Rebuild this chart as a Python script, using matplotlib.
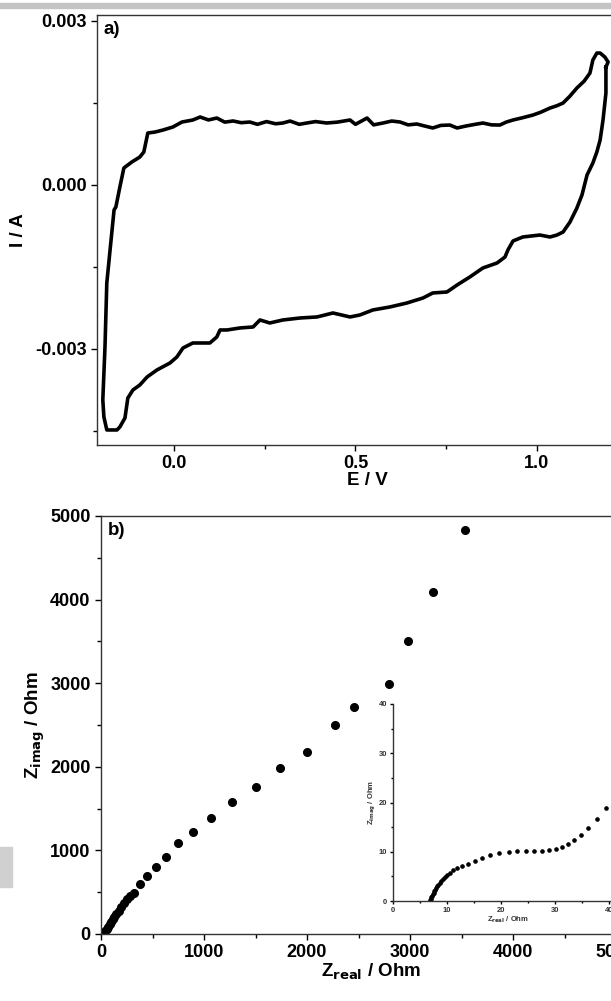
import matplotlib
matplotlib.use("Agg")
import matplotlib.pyplot as plt
from matplotlib.ticker import MultipleLocator
from matplotlib.patches import Rectangle

plt.rcParams['font.family'] = ['Liberation Sans', 'DejaVu Sans']
plt.rcParams['font.weight'] = 'bold'

# ---- panel a) cyclic voltammogram (E in V, I in mA) ----
cv_E = [1.190, 1.190, 1.182, 1.174, 1.165, 1.154, 1.138, 1.124, 1.110, 1.091,
        1.072, 1.055, 1.036, 1.008, 0.961, 0.934, 0.920, 0.912, 0.890, 0.851,
        0.815, 0.780, 0.752, 0.713, 0.686, 0.642, 0.595, 0.548, 0.512, 0.485,
        0.438, 0.394, 0.347, 0.300, 0.264, 0.237, 0.218, 0.182, 0.146, 0.127,
        0.118, 0.099, 0.052, 0.025, 0.008, -0.011, -0.047, -0.074, -0.094, -0.113,
        -0.127, -0.135, -0.149, -0.157, -0.185, -0.193, -0.196, -0.190, -0.185, -0.176,
        -0.165, -0.160, -0.149, -0.138, -0.116, -0.094, -0.083, -0.072, -0.052, -0.030,
        -0.003, 0.022, 0.052, 0.072, 0.095, 0.118, 0.140, 0.163, 0.185, 0.209,
        0.230, 0.255, 0.280, 0.300, 0.320, 0.345, 0.366, 0.390, 0.421, 0.450,
        0.485, 0.500, 0.532, 0.550, 0.576, 0.600, 0.623, 0.645, 0.669, 0.690,
        0.713, 0.735, 0.760, 0.780, 0.805, 0.830, 0.851, 0.875, 0.898, 0.915,
        0.934, 0.960, 0.989, 1.010, 1.036, 1.055, 1.072, 1.090, 1.110, 1.130,
        1.146, 1.154, 1.165, 1.174, 1.187, 1.196, 1.190]
cv_I = [2.158, 1.683, 1.189, 0.823, 0.604, 0.402, 0.183, -0.183, -0.421, -0.677,
        -0.860, -0.915, -0.951, -0.915, -0.951, -1.024, -1.189, -1.317, -1.427, -1.518,
        -1.683, -1.829, -1.957, -1.975, -2.067, -2.158, -2.231, -2.286, -2.378, -2.414,
        -2.341, -2.414, -2.433, -2.469, -2.524, -2.469, -2.597, -2.615, -2.652, -2.652,
        -2.780, -2.890, -2.890, -2.981, -3.146, -3.256, -3.384, -3.512, -3.658, -3.749,
        -3.896, -4.262, -4.426, -4.481, -4.481, -4.243, -3.932, -2.963, -1.792, -1.189,
        -0.457, -0.402, -0.037, 0.311, 0.421, 0.512, 0.604, 0.951, 0.969, 1.006,
        1.061, 1.152, 1.189, 1.244, 1.190, 1.225, 1.150, 1.171, 1.140, 1.152,
        1.110, 1.160, 1.120, 1.134, 1.170, 1.110, 1.134, 1.160, 1.134, 1.150,
        1.189, 1.110, 1.225, 1.100, 1.134, 1.170, 1.152, 1.100, 1.116, 1.080,
        1.043, 1.090, 1.097, 1.043, 1.080, 1.110, 1.134, 1.100, 1.097, 1.150,
        1.189, 1.230, 1.280, 1.330, 1.408, 1.450, 1.500, 1.620, 1.774, 1.900,
        2.048, 2.286, 2.414, 2.414, 2.341, 2.250, 2.158]

# ---- panel b) Nyquist plot (Ohm) ----
z_real = [20, 40, 55, 70, 85, 100, 115, 130, 150, 170, 195, 220, 250, 285, 320,
          379, 447, 534, 631, 748, 893, 1068, 1272, 1505, 1738, 2000, 2270, 2460,
          2797, 2981, 3220, 3530]
z_imag = [10, 30, 55, 85, 115, 145, 175, 205, 240, 280, 325, 370, 420, 460, 488,
          595, 690, 797, 916, 1083, 1226, 1392, 1583, 1761, 1987, 2180, 2500, 2720,
          2988, 3500, 4090, 4830]

# ---- inset: high-frequency region (Ohm) ----
zi_real = [6.9, 7.0, 7.1, 7.2, 7.35, 7.5, 7.65, 7.8, 8.0, 8.2, 8.4, 8.65, 8.9, 9.2,
           9.55, 9.95, 10.5, 11.1, 11.8, 12.7, 13.8, 15.1, 16.5, 18.0, 19.7, 21.4,
           23.0, 24.7, 26.2, 27.6, 28.9, 30.2, 31.3, 32.4, 33.5, 34.8, 36.1, 37.8, 39.4]
zi_imag = [0.2, 0.5, 0.8, 1.1, 1.4, 1.7, 2.0, 2.3, 2.6, 2.95, 3.3, 3.65, 4.0, 4.4,
           4.8, 5.25, 5.75, 6.2, 6.65, 7.1, 7.6, 8.15, 8.75, 9.25, 9.7, 10.0,
           10.15, 10.2, 10.2, 10.2, 10.35, 10.6, 11.0, 11.6, 12.4, 13.4, 14.8, 16.6, 18.9]

W, H = 611, 1001
fig = plt.figure(figsize=(W / 100, H / 100), dpi=100)

def fx(px):
    return px / W

def fy(py):
    return 1 - py / H

# decorative gray scan bars
fig.patches.append(Rectangle((0, fy(8)), 1, (8 - 3) / H, transform=fig.transFigure,
                             color='#c4c4c4', zorder=0))
fig.patches.append(Rectangle((0, fy(887)), fx(12), 40 / H, transform=fig.transFigure,
                             color='#d0d0d0', zorder=0))

FS = 13.5
TICKFS = 13

def style(ax, fs, major_len=4, minor_len=3):
    ax.tick_params(which='both', direction='out', width=1.0, labelsize=fs, colors='black')
    ax.tick_params(which='major', length=major_len)
    ax.tick_params(which='minor', length=minor_len)
    for s in ax.spines.values():
        s.set_linewidth(1.0)
        s.set_color('#333333')
    for lab in ax.get_xticklabels() + ax.get_yticklabels():
        lab.set_fontweight('bold')

# ---- panel a ----
ax1 = fig.add_axes([fx(97), fy(445), 540 / W, (445 - 15) / H])
ax1.plot(cv_E, [v * 1e-3 for v in cv_I], color='black', lw=2.6, solid_joinstyle='round')
ax1.set_xlim(-0.212, -0.212 + 540 / 363)
ax1.set_ylim(-0.003 - (445 - 349) / 164 * 0.003, 0.003 + 6 / 164 * 0.003)
ax1.xaxis.set_major_locator(MultipleLocator(0.5))
ax1.xaxis.set_minor_locator(MultipleLocator(0.25))
ax1.yaxis.set_major_locator(MultipleLocator(0.003))
ax1.yaxis.set_minor_locator(MultipleLocator(0.0015))
ax1.xaxis.set_major_formatter(plt.FuncFormatter(lambda v, p: f"{v:.1f}"))
ax1.yaxis.set_major_formatter(plt.FuncFormatter(lambda v, p: f"{v:.3f}"))
ax1.spines['right'].set_visible(False)
style(ax1, TICKFS)
ax1.set_xlabel('E / V', fontsize=FS, fontweight='bold', labelpad=0)
ax1.set_ylabel('I / A', fontsize=FS, fontweight='bold', labelpad=6)
ax1.text(0.012, 0.985, 'a)', transform=ax1.transAxes, fontsize=FS, fontweight='bold',
         va='top', ha='left')

# ---- panel b ----
ax2 = fig.add_axes([fx(101), fy(934), 540 / W, (934 - 516) / H])
ax2.plot(z_real, z_imag, 'o', color='black', ms=5.5, mec='black')
ax2.set_xlim(0, 540 / 0.103)
ax2.set_ylim(0, 5000)
ax2.xaxis.set_major_locator(MultipleLocator(1000))
ax2.xaxis.set_minor_locator(MultipleLocator(500))
ax2.yaxis.set_major_locator(MultipleLocator(1000))
ax2.yaxis.set_minor_locator(MultipleLocator(500))
ax2.spines['right'].set_visible(False)
style(ax2, TICKFS)
ax2.set_xlabel(r'Z$_{\mathbf{real}}$ / Ohm', fontsize=FS, fontweight='bold', labelpad=0)
ax2.set_ylabel(r'Z$_{\mathbf{imag}}$ / Ohm', fontsize=FS, fontweight='bold', labelpad=2)
ax2.text(0.012, 0.985, 'b)', transform=ax2.transAxes, fontsize=FS, fontweight='bold',
         va='top', ha='left')

# ---- inset ----
ax3 = fig.add_axes([fx(393), fy(901), 230 / W, (901 - 704) / H])
ax3.plot(zi_real, zi_imag, 'o', color='black', ms=2.3)
ax3.set_xlim(0, 230 / 5.4)
ax3.set_ylim(0, 40)
ax3.xaxis.set_major_locator(MultipleLocator(10))
ax3.xaxis.set_minor_locator(MultipleLocator(5))
ax3.yaxis.set_major_locator(MultipleLocator(10))
ax3.yaxis.set_minor_locator(MultipleLocator(5))
ax3.spines['right'].set_visible(False)
ax3.spines['top'].set_visible(False)
ax3.patch.set_alpha(0)
style(ax3, 5.5, major_len=2.5, minor_len=1.5)
for lab in ax3.get_xticklabels() + ax3.get_yticklabels():
    lab.set_color('#333333')
ax3.tick_params(pad=1.5)
ax3.set_xlabel(r'Z$_{\mathbf{real}}$ / Ohm', fontsize=5.5, fontweight='bold', labelpad=1,
               color='#333333')
ax3.set_ylabel(r'Z$_{\mathbf{imag}}$ / Ohm', fontsize=5.5, fontweight='bold', labelpad=1,
               color='#333333')

fig.savefig('out.png', dpi=100)
